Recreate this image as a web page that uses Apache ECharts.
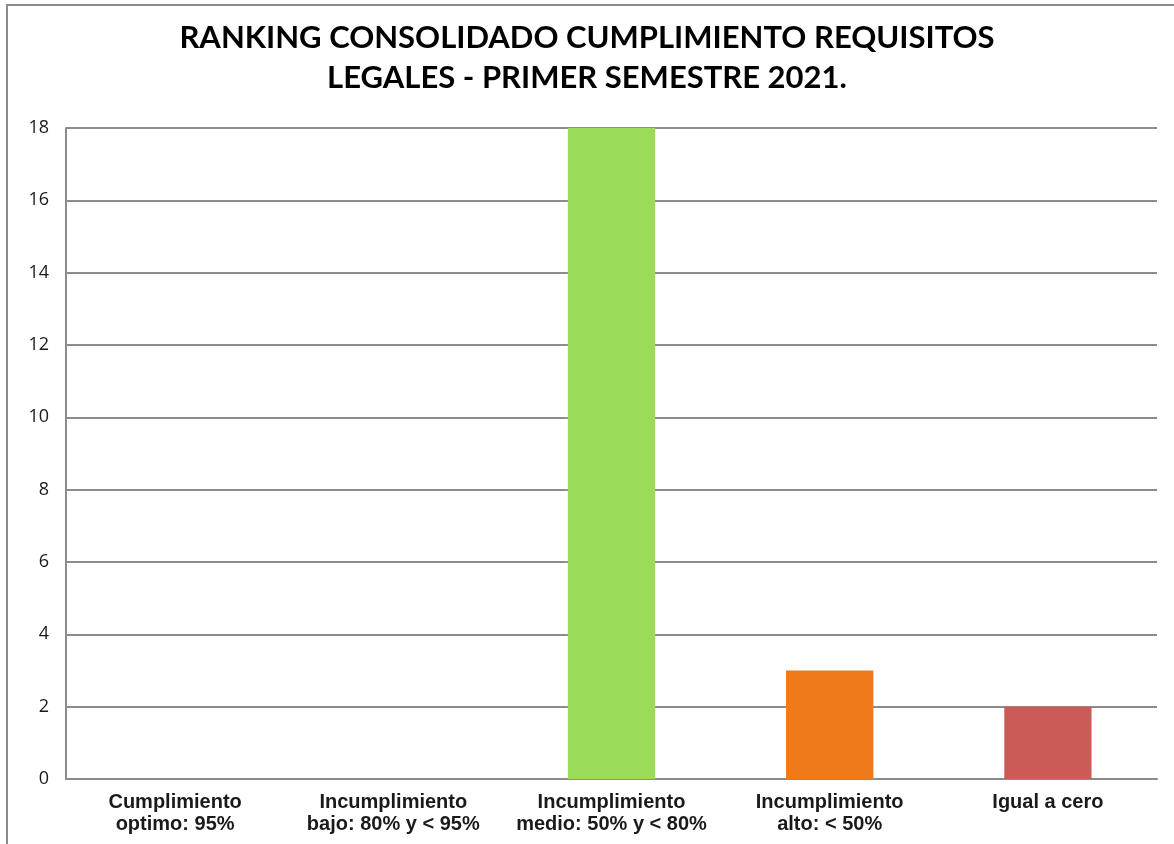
<!DOCTYPE html>
<html lang="es" style="height: 100%">
<head>
  <meta charset="utf-8">
</head>
<body style="height: 100%; margin: 0; background: #fff">
  <div id="container" style="width: 1174px; height: 844px"></div>
  <script type="text/javascript" src="https://cdn.jsdelivr.net/npm/echarts@6/dist/echarts.min.js"></script>
  <script type="text/javascript">
    var titleText = 'RANKING CONSOLIDADO CUMPLIMIENTO REQUISITOS\nLEGALES - PRIMER SEMESTRE 2021.';
    var categories = [
      'Cumplimiento\noptimo: 95%',
      'Incumplimiento\nbajo: 80% y < 95%',
      'Incumplimiento\nmedio: 50% y < 80%',
      'Incumplimiento\nalto: < 50%',
      'Igual a cero'
    ];
    var values = [0, 0, 18, 3, 2];
    var barColors = ['#4f81bd', '#4f81bd', '#9bdb5a', '#ee7a1a', '#cc5b58'];

    var myChart = echarts.init(document.getElementById('container'));
    myChart.setOption({
      animation: false,
      backgroundColor: '#fff',
      graphic: [{
        // marco del gráfico
        type: 'rect',
        shape: { x: 7, y: 5, width: 1200, height: 900 },
        style: { fill: 'none', stroke: '#8c8c8c', lineWidth: 2 },
        silent: true
      }],
      title: {
        text: titleText,
        left: 'center',
        top: 13,
        textStyle: {
          fontFamily: 'Lato',
          fontWeight: 'bold',
          fontSize: 31,
          lineHeight: 40,
          color: '#000'
        }
      },
      grid: { left: 66, right: 17, top: 128, bottom: 65 },
      xAxis: {
        type: 'category',
        data: categories,
        axisLine: { lineStyle: { color: '#8c8c8c', width: 2 } },
        axisTick: { show: false },
        axisLabel: {
          interval: 0,
          margin: 12,
          fontFamily: 'Liberation Sans',
          fontWeight: 'bold',
          fontSize: 20,
          lineHeight: 22,
          color: '#1a1a1a'
        }
      },
      yAxis: {
        type: 'value',
        min: 0,
        max: 18,
        interval: 2,
        axisLine: { show: true, lineStyle: { color: '#8c8c8c', width: 2 } },
        axisTick: { show: false },
        axisLabel: {
          margin: 17,
          fontFamily: 'Open Sans',
          fontSize: 18,
          color: '#1a1a1a'
        },
        splitLine: { lineStyle: { color: '#8c8c8c', width: 2 } }
      },
      series: [{
        type: 'bar',
        barWidth: '40%',
        data: values.map(function (v, i) {
          return { value: v, itemStyle: { color: barColors[i] } };
        })
      }]
    });
  </script>
</body>
</html>
